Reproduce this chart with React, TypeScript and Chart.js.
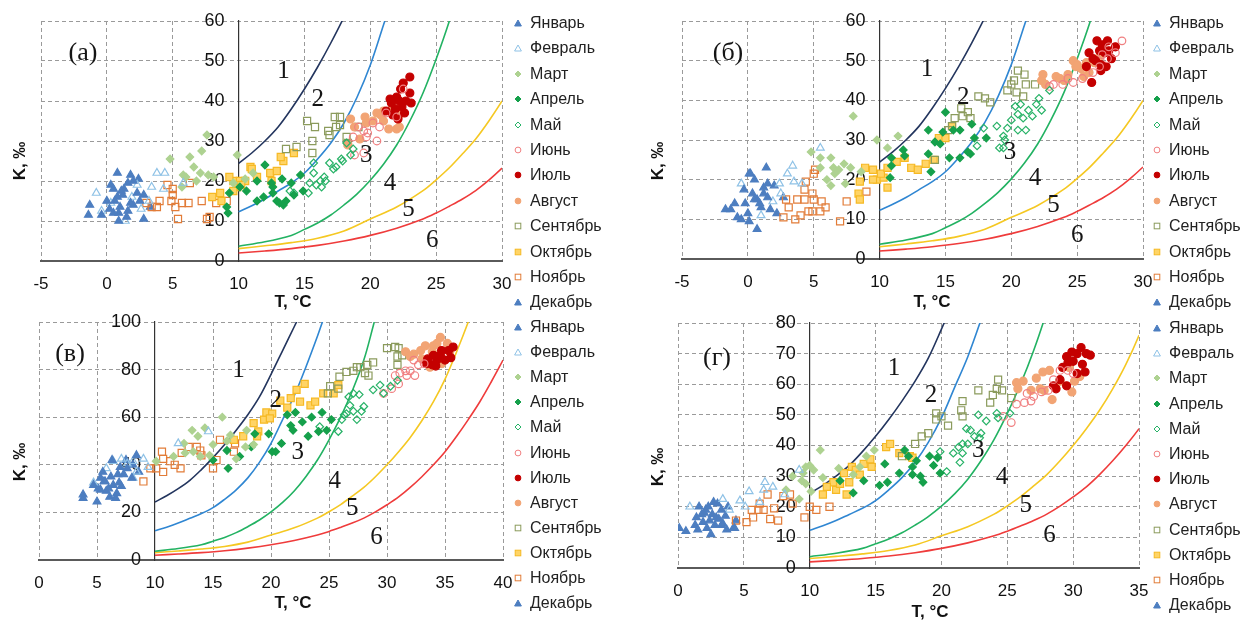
import React, { useEffect, useRef } from 'react';
import { Chart, registerables } from 'chart.js';

Chart.register(...registerables);
Chart.defaults.font.family = '"Liberation Sans", Arial, sans-serif';

const months = ['Январь', 'Февраль', 'Март', 'Апрель', 'Май', 'Июнь', 'Июль', 'Август', 'Сентябрь', 'Октябрь', 'Ноябрь', 'Декабрь'];

// ---- boundary curves (T, K) ----
const c1T = [10, 11, 12, 13, 14, 15, 16, 17, 18, 19, 20, 21, 22, 22.3];
const c1K = [24.4, 27, 30, 33.5, 38, 43, 48.5, 54.5, 61, 68.5, 78, 88, 98, 101];
const c2T = [10, 11, 12, 13, 14, 15, 16, 17, 18, 19, 20, 21, 22, 23, 24, 24.5];
const c2K = [12.3, 13.8, 15.5, 17.5, 19.5, 22, 25.5, 29.5, 34.5, 41, 49, 59, 69, 81, 94, 101];
const c3T = [10, 12, 14, 15, 16, 17, 18, 19, 20, 21, 22, 23, 24, 25, 26, 27, 28, 28.9];
const c3K = [3.7, 4.8, 6.4, 7.9, 9.5, 11.5, 14, 16.8, 20.2, 24.2, 29, 35, 42, 50.5, 60, 71, 84, 100];
const c4T = [10, 12, 14, 16, 18, 20, 22, 24, 25, 26, 27, 28, 29, 30, 31, 32, 33, 34, 35, 36, 37, 37.5];
const c4K = [3.1, 3.8, 4.6, 5.7, 7.5, 10.5, 13.5, 17.6, 20.3, 23.3, 26.8, 30.5, 35, 40, 45.5, 51.5, 58.5, 66.5, 76, 87.5, 100, 107];
const c5T = [10, 12, 14, 16, 18, 20, 22, 24, 25, 26, 27, 28, 29, 30, 31, 32, 33, 34, 35, 36, 37, 38, 39, 40];
const c5K = [2, 2.5, 3.1, 3.9, 5, 6.4, 8.2, 10.5, 12, 13.7, 15.5, 17.6, 20.2, 23.2, 26.5, 30.5, 35, 40, 45.5, 52, 59, 66.5, 75, 84];

// ---- panel (а) ----
const aT_Jan = [-1.3, -1.4, 0.8, 1.8, 0.3, 0.8, 0, 1, 0.5, 1.5, -0.4, 2.3, 2.8, 2, 1.3, 0.6, 2.5, 1.8, 0.2, 1.1, 0.9, 1.6];
const aK_Jan = [14, 11.5, 22, 21.5, 19, 16, 15, 13.5, 12, 11, 11.5, 17, 10.5, 20, 18, 15, 15, 14.5, 13, 17.5, 10, 12.5];
const aT_Feb = [-0.8, 3.8, 4.4, 3.4, 2.3, -0.4, 1.4, 5.8, 3.2, 4.3, 2.6, 0.3, 1.9];
const aK_Feb = [17, 22, 22, 18.5, 19, 12.5, 10, 19.5, 15, 18, 13, 14.5, 16];
const aT_Mar = [4.8, 6.3, 7.2, 7.6, 5.8, 6.6, 7.1, 6.8, 5.7, 9.9, 8.1, 9.6, 11.1, 7.7, 6, 10.5];
const aK_Mar = [25.5, 26, 27.5, 31.5, 21.5, 23.5, 22, 20, 18.5, 26.5, 21, 19.5, 22, 21.5, 21, 20.5];
const aT_Apr = [9.2, 12, 11.4, 10.6, 11.4, 11.9, 12.6, 13.3, 12.5, 12.9, 13.1, 13.6, 14.2, 14.7, 14.9, 14, 9.3, 10.1, 9.1, 12.6, 13.4];
const aK_Apr = [12, 24, 20, 17.5, 15, 16, 18.5, 20.5, 19.5, 15, 14.5, 15, 16.5, 21.5, 17.5, 19.5, 17, 18.5, 13.5, 17, 14];
const aT_May = [13.9, 14.2, 15.3, 15.7, 16.2, 16.3, 15.9, 16.6, 17.2, 17.8, 18.5, 18.7, 18.2, 17.4, 16.9, 15.7, 17.9, 16.5, 15.4];
const aK_May = [17.5, 17, 17, 24.5, 20, 18.5, 19, 20, 23, 25.5, 26.5, 28, 29.5, 23.5, 24.5, 22, 25, 21, 19.5];
const aT_Jun = [18.8, 19.5, 19.1, 19.5, 18.7, 19.7, 20.2, 21.2, 22.5, 22, 20.7, 19.8, 20.5];
const aK_Jun = [26.5, 27, 33.5, 32.5, 31, 31, 34.5, 37, 43, 36, 33.5, 32, 30];
const aT_Jul = [23, 22.5, 22, 22.2, 21.6, 21.2, 21.7, 22.6, 23.1, 23, 22.4, 22.1, 21.5, 22.7, 22.3, 21.9];
const aK_Jul = [46, 44.5, 41, 40, 39.5, 37.5, 36.5, 37, 39.5, 42, 38.5, 35.5, 40.5, 40, 43, 38];
const aT_Aug = [18.5, 18.8, 19.7, 20.5, 21, 21.4, 22, 22.2, 21.7, 20.2, 19.6, 20.8, 22.2, 21, 18.3, 19.2];
const aK_Aug = [35.5, 33.5, 34.5, 37, 37.5, 33, 33, 33.5, 38.5, 35, 36, 36.5, 36.5, 35, 29, 30.5];
const aT_Sep = [15.2, 15.8, 17.3, 17.7, 17.4, 16.9, 16.8, 17.7, 19.1, 13.6, 14.4, 15.6, 15.6, 18.2, 18.3];
const aK_Sep = [35, 33.5, 36, 36, 33.5, 31.5, 32.5, 34, 33.5, 28, 28.5, 30, 27, 31, 29.5];
const aT_Oct = [8.6, 8.7, 8, 9.6, 9.9, 10.1, 10.5, 9.6, 10.9, 11.4, 12.4, 12.9, 13.4, 14.2, 12.5, 13.2, 11, 9.3, 10.2];
const aK_Oct = [17, 15, 16, 20, 18.5, 20, 20, 17.5, 23.5, 21, 22, 22.5, 25, 27, 20, 26, 23, 21, 19];
const aT_Nov = [3, 4, 4.6, 5, 4.9, 5.2, 5.4, 5.7, 6.2, 7.2, 6.3, 7.8, 8.3, 9.1, 7.6, 3.4, 5, 3.8];
const aK_Nov = [14.5, 15, 19, 18, 15, 13.5, 10.5, 14.5, 14.5, 15, 19.5, 11, 14.5, 15, 10.5, 13.5, 16.5, 13.5];
const aT_Dec = [0.5, 1.2, 2, 2.8, 3.3, 1.6, 0.9, 2.4];
const aK_Dec = [18, 16.5, 14, 16.5, 13.5, 19.5, 12, 20.5];

// ---- panel (б) ----
const bT_Jan = [-1.7, -1.3, -0.8, 0.1, 0.7, 0.2, 0.5, 1.4, 1.2, -0.3, 0.5, 1, 1.5, 1.7, 0, -0.5, 0.35, 0.9, -1];
const bK_Jan = [12.5, 12.5, 10.5, 9.5, 7.5, 21.5, 20, 23, 18, 17.5, 15, 13, 15.5, 12.5, 11.5, 10, 16.5, 14, 14];
const bT_Feb = [-0.5, 2.4, 3.4, 3.5, 4.1, 5.5, 2.5, 1, 1.9, 3];
const bK_Feb = [19, 19, 23.5, 19.5, 19, 28, 16.5, 11, 14.5, 21.5];
const bT_Mar = [4.8, 5.5, 6.3, 6.5, 5.5, 6.6, 8, 7.3, 7.8, 9.8, 10.6, 11.4, 6, 7.4, 6.3, 6.9, 8.6];
const bK_Mar = [27, 25.5, 25.5, 23, 23, 21.5, 36, 24, 23, 30, 28, 31, 20, 19, 18.5, 22.5, 22];
const bT_Apr = [10.9, 11.8, 11.9, 10.9, 10.8, 13.7, 15, 14.2, 14.6, 13.7, 13.9, 15.3, 16.1, 15.6, 16.1, 16.9, 17, 17.2, 18.1, 16.7, 14.8];
const bK_Apr = [25.5, 27.5, 26, 23.5, 20.5, 32.5, 37, 29.5, 29, 26.5, 22, 25.5, 25.5, 32.5, 32.5, 26.5, 34, 30.5, 30.5, 27, 32];
const bT_May = [17.4, 17.9, 18.9, 19.1, 19.4, 19.4, 19.7, 20, 20.3, 20.5, 20.9, 21.1, 20.5, 21.6, 21.9, 22.1, 22.9, 22.3, 21.3, 19.5, 20.7];
const bK_May = [28.5, 33, 33.5, 28, 28, 31, 33, 35, 38.5, 36.5, 35.5, 32.5, 32.5, 36, 39, 40.5, 42.5, 37.5, 37.5, 30, 39];
const bT_Jun = [22.9, 23.9, 24.7, 25.4, 26.2, 27.3, 27.9, 28.4, 27.4, 26.7, 23.2, 26.9, 24.3];
const bK_Jun = [43.5, 44, 44.5, 45.5, 47, 50.5, 52, 55, 53.5, 48.5, 44, 51.5, 45.5];
const bT_Jul = [25.9, 26.2, 26.7, 26.9, 27.3, 27.4, 26.8, 27.2, 27.9, 26.1, 26.8, 26.4, 25.7, 27.6, 27.1, 26.5];
const bK_Jul = [52, 50.5, 52.5, 54, 55, 52.5, 49, 48.5, 53.5, 44.5, 47.5, 50, 48.5, 50.5, 52, 55];
const bT_Aug = [22.3, 22.6, 23.4, 23.7, 24.3, 24.7, 24.9, 25.3, 25.7, 25.9, 26.3, 26.7, 22.4, 24, 25, 25.5];
const bK_Aug = [45, 44, 46, 45.5, 46.5, 50, 48.5, 48, 49.5, 47, 49.5, 51, 46.5, 45, 49, 46];
const bT_Sep = [15.2, 15.5, 15.7, 16.2, 16.7, 16.9, 16.3, 17.5, 18, 18.4, 19.7, 20.2, 20.4, 21, 20.9, 21.1, 21.8, 20, 14.2, 20.5];
const bK_Sep = [32.5, 33.5, 35.5, 38, 37, 35.5, 36, 41, 40.5, 39.5, 42.5, 45, 42, 46.5, 41, 44, 44, 44, 25, 47.5];
const bT_Oct = [8.5, 8.4, 8.9, 9.5, 9.8, 10.3, 10.6, 10.1, 10.6, 11.3, 11.9, 12.4, 12.9, 13.5, 14.1, 14.5, 15, 15.5, 9.5, 8.5];
const bK_Oct = [19.5, 16.5, 23, 22.5, 20, 20.5, 18, 21.5, 23, 24.5, 25.5, 23, 22.5, 24, 25, 30.5, 30.5, 33.5, 20, 15];
const bT_Nov = [2.7, 2.9, 3.1, 3.75, 3.6, 4, 4.3, 4.4, 4.9, 5, 4.9, 4.6, 5.1, 5.5, 5.6, 5.9, 7, 7.5, 9, 5, 4.3];
const bK_Nov = [10.5, 15, 13, 15, 10, 11, 15, 19.5, 16.5, 15, 12, 12, 22.5, 12, 14.5, 13, 9.5, 14.5, 17, 21.5, 17.5];
const bT_Dec = [2.7, 2, 2.2, 1.5, 0.7, 0.1, 1.2, -0.2];
const bK_Dec = [15.5, 18.5, 11.5, 19, 15, 21.5, 16.5, 14];

// ---- panel (в) ----
const vT_Jan = [3.8, 3.8, 5, 4.7, 5.3, 5.5, 6.3, 5.8, 6.1, 6.4, 6.8, 7.6, 8.4, 8, 7.1, 5.3, 5.7, 6.6, 7.3, 6.9, 6];
const vK_Jan = [27.5, 26, 24.5, 31.5, 34.5, 37, 42, 29, 26.5, 31.5, 36, 38.5, 44, 34.5, 31, 29.5, 33, 26, 36, 32.5, 30];
const vT_Feb = [4.7, 5.8, 6.4, 7.1, 8.1, 9, 12, 14.6, 8.1, 8.4, 7.6, 9.4];
const vK_Feb = [32.5, 38.5, 41.5, 42.5, 41.5, 42.5, 49, 54, 34.5, 37, 40.5, 39];
const vT_Mar = [10.1, 12.5, 13.2, 13.7, 14.3, 13.3, 13.9, 15, 15.8, 16.5, 17.9, 18.5, 17.8, 17, 12.6, 11.6, 14.7, 16.2];
const vK_Mar = [41.5, 49, 54.5, 52, 55.5, 45.5, 43.5, 48.5, 60, 52.5, 54.5, 48.5, 47.5, 42.5, 45, 43.5, 44, 50];
const vT_Apr = [15, 16.3, 16.2, 17.3, 18.6, 18.3, 19.8, 20.1, 20.9, 21.4, 21.9, 22.7, 22.1, 23.2, 23.5, 24.1, 24.4, 24.8, 25.2, 21.7, 20.4];
const vK_Apr = [42, 38.5, 46, 43.5, 53, 47.5, 53, 45.5, 49, 61, 54.5, 58, 62, 52, 60, 54, 62, 54.5, 59, 56.5, 45.5];
const vT_May = [24.2, 25.8, 26.1, 26.5, 26.8, 27.1, 27.4, 27.8, 28, 26.7, 27.1, 27.6, 28.8, 29.4, 29.7, 30.3, 30.9, 26.3];
const vK_May = [56, 54, 59, 61.5, 65, 62.5, 59, 62.5, 64.5, 68.5, 70, 69.5, 71.5, 73.5, 70, 73, 75.5, 61];
const vT_Jun = [29.7, 30.4, 31, 30.7, 31.1, 31.7, 32, 32.4, 32.3, 31.6, 32.7, 33.2];
const vK_Jun = [70, 72, 74, 77.5, 78.5, 77.5, 79.5, 77.5, 84, 79.5, 82, 82.5];
const vT_Jul = [33.4, 33.9, 34.3, 34.6, 35, 35.3, 35.7, 34, 33.5, 34.7, 35.5, 34.2];
const vK_Jul = [82.5, 82, 84, 86, 84, 88, 89.5, 86, 84.5, 88, 85, 81.5];
const vT_Aug = [31.6, 32.3, 32.9, 33.3, 34, 34.6, 34.3, 35.2, 34.7, 33.7, 35.4, 32, 33, 33.9];
const vK_Aug = [87.5, 86.5, 88, 90, 90, 93.5, 91, 91, 82.5, 81, 87.5, 85.5, 84.5, 87.5];
const vT_Sep = [25.1, 25.8, 25.9, 26.5, 27.1, 27.4, 27.7, 28.1, 28.4, 28.3, 28.8, 30, 30.7, 31, 30.9, 30.9, 31.3, 24.9];
const vK_Sep = [73, 72, 77, 79, 79.5, 81, 81, 78.5, 77.5, 82, 83, 89, 89.5, 89, 82, 85.5, 86, 70];
const vT_Oct = [16.8, 17.6, 18.5, 18.9, 19.4, 19.6, 20.1, 19.9, 20.8, 21.7, 22.2, 22.9, 22.5, 23.4, 23.8, 24.5, 25.4, 25.8, 21.4, 18.8];
const vK_Oct = [50.5, 52, 57.5, 54, 59, 62, 61.5, 59.5, 67, 68, 71.5, 74, 66.5, 65, 66.5, 70, 70, 73.5, 64, 52];
const vT_Nov = [9, 9.6, 10.1, 10.7, 10.7, 11.3, 11.7, 12.2, 12.3, 12.9, 13.6, 13.9, 14, 15, 15.3, 15.6, 16.8, 16.9, 10.6];
const vK_Nov = [33, 38.5, 38.5, 37, 42.5, 41.5, 40, 38.5, 45, 47.5, 47.5, 46, 44, 38.5, 42, 50.5, 45.5, 49, 45.5];
const vT_Dec = [5.1, 6.2, 7, 7.5, 8.1, 6.7, 5.6, 8.6];
const vK_Dec = [30, 35, 39, 42, 40, 28, 33, 37];

// ---- panel (г) ----
const gT_Jan = [0.1, 0.6, 1.4, 1.6, 2.3, 2.7, 1.9, 2.2, 2.5, 2.9, 3.3, 3.4, 3.7, 4.3, 1.5, 2.8, 2, 1.3, 3.1, 1.8, 2.4];
const gK_Jan = [13, 12, 16.5, 20, 20, 21.5, 15, 13, 11, 16.5, 19, 14.5, 12.5, 13, 12.5, 14, 18, 14, 16, 17.5, 15.5];
const gT_Feb = [0.9, 3.4, 4.7, 5.4, 6.5, 6.6, 7.2, 6.2, 3.9, 9.2, 5.1, 8.1];
const gK_Feb = [20, 22.5, 22, 25, 25.5, 28, 26.5, 21.5, 19, 32, 20, 24];
const gT_Mar = [8.2, 8.7, 9.4, 9.5, 9.7, 10, 10.3, 10.8, 9.7, 10.1, 11, 12.2, 13.3, 13.8, 14.3, 14.9, 9.2];
const gK_Mar = [25.5, 30, 28.5, 31, 33, 33.5, 32, 38.5, 27.5, 25, 29.5, 32.5, 30.5, 33, 36.5, 38.5, 22.5];
const gT_Apr = [12.3, 13.3, 14.1, 15.3, 15.7, 15.9, 16.8, 17.2, 17.5, 17.8, 17.8, 18.4, 18.6, 19.1, 19.4, 19.7, 19.9, 18.1];
const gK_Apr = [28.5, 24.5, 28.5, 27, 34, 28, 31, 38.5, 36.5, 33, 30.5, 30, 28, 36.5, 33.5, 36, 31, 35];
const gT_May = [19.9, 20.4, 20.9, 21.3, 21.4, 21.6, 22, 22.2, 22.5, 22.8, 22.9, 23.4, 24.2, 24.3, 25.2, 21.9, 23, 21.6];
const gK_May = [38, 31.5, 37.5, 39.5, 34.5, 40.5, 40.5, 45, 43, 50, 42.5, 48, 50.5, 49, 50.5, 45.5, 44, 37.5];
const gT_Jun = [24.7, 25.3, 25.7, 26.3, 26.8, 27, 27.6, 28.1, 28.5, 29, 29.6, 30, 26.5];
const gK_Jun = [49.5, 47.5, 53.5, 54, 54.5, 56, 57.5, 58, 61.5, 64.5, 64.5, 63.5, 57];
const gT_Jul = [28.5, 29, 29.2, 29.5, 29.9, 30.3, 30.6, 31, 31.3, 29.6, 30.3, 30.9, 29.5, 28.7, 30, 30.7];
const gK_Jul = [59.5, 61.5, 65.5, 69, 70.5, 70, 72, 70, 69.5, 67, 63.5, 64, 59.5, 58.5, 67.5, 66.5];
const gT_Aug = [25.7, 26.2, 27.2, 27.7, 28.2, 27.8, 28.4, 29, 29.7, 29.9, 30.1, 26.8, 27.5, 25.8, 30.5];
const gK_Aug = [60.5, 61, 62, 64, 64.5, 58, 55, 61, 65.5, 57.5, 61, 58, 58.5, 58.5, 62.5];
const gT_Sep = [18, 18.5, 19, 19.6, 20, 20.5, 21.5, 21.6, 21.6, 22.8, 23.7, 23.9, 24.3, 24.2, 25.3, 19.6, 17, 24.6];
const gK_Sep = [40.5, 43, 44, 50.5, 49.5, 46.5, 51.5, 54.5, 49.5, 58, 54, 56.5, 61.5, 58.5, 55.5, 48.5, 36.5, 58];
const gT_Oct = [11, 11.8, 12, 12.3, 12.6, 12.8, 13.2, 13.5, 13.8, 14.1, 14.6, 14.7, 15.8, 16.1, 16.8, 17.6, 17.8, 11.3, 13];
const gK_Oct = [24, 28, 25.5, 27.5, 31, 24, 33, 32, 30.5, 34, 35.5, 33, 39.5, 40.5, 37.5, 36.5, 36, 26.5, 28];
const gT_Nov = [4.4, 5.2, 5.6, 5.7, 6.1, 6.5, 6.8, 7, 7.3, 7.6, 8, 8.5, 8.7, 9.6, 10, 10.5, 11.5, 6.2];
const gK_Nov = [15.5, 15, 19, 16.5, 19, 19, 24, 16, 19.5, 15.5, 23.5, 24, 21, 16.5, 20, 19, 20, 21];
const gT_Dec = [2.1, 3, 3.6, 4.2, 4.4, 3.3, 2.6, 3.8];
const gK_Dec = [19, 21, 17, 13, 15.5, 14, 17.5, 20];

// zone number positions (T, K) per panel
const aLabT = [13.4, 16.0, 19.7, 21.5, 22.9, 24.7];
const aLabK = [47.5, 40.5, 26.5, 19.5, 12.8, 5.2];
const bLabT = [13.6, 16.35, 19.9, 21.8, 23.2, 25.0];
const bLabK = [47.9, 40.8, 26.9, 20.2, 13.5, 6];
const vLabT = [17.2, 20.4, 22.3, 25.5, 27, 29.1];
const vLabK = [79.8, 67.2, 45, 33, 21.8, 9.3];
const gLabT = [16.4, 19.2, 22.8, 24.6, 26.4, 28.2];
const gLabK = [65.3, 56.4, 38.4, 29.7, 20.4, 10.7];

const aT = [aT_Jan, aT_Feb, aT_Mar, aT_Apr, aT_May, aT_Jun, aT_Jul, aT_Aug, aT_Sep, aT_Oct, aT_Nov, aT_Dec];
const aK = [aK_Jan, aK_Feb, aK_Mar, aK_Apr, aK_May, aK_Jun, aK_Jul, aK_Aug, aK_Sep, aK_Oct, aK_Nov, aK_Dec];
const bT = [bT_Jan, bT_Feb, bT_Mar, bT_Apr, bT_May, bT_Jun, bT_Jul, bT_Aug, bT_Sep, bT_Oct, bT_Nov, bT_Dec];
const bK = [bK_Jan, bK_Feb, bK_Mar, bK_Apr, bK_May, bK_Jun, bK_Jul, bK_Aug, bK_Sep, bK_Oct, bK_Nov, bK_Dec];
const vT = [vT_Jan, vT_Feb, vT_Mar, vT_Apr, vT_May, vT_Jun, vT_Jul, vT_Aug, vT_Sep, vT_Oct, vT_Nov, vT_Dec];
const vK = [vK_Jan, vK_Feb, vK_Mar, vK_Apr, vK_May, vK_Jun, vK_Jul, vK_Aug, vK_Sep, vK_Oct, vK_Nov, vK_Dec];
const gT = [gT_Jan, gT_Feb, gT_Mar, gT_Apr, gT_May, gT_Jun, gT_Jul, gT_Aug, gT_Sep, gT_Oct, gT_Nov, gT_Dec];
const gK = [gK_Jan, gK_Feb, gK_Mar, gK_Apr, gK_May, gK_Jun, gK_Jul, gK_Aug, gK_Sep, gK_Oct, gK_Nov, gK_Dec];

const curvesT = [c1T, c2T, c3T, c4T, c5T];
const curvesK = [c1K, c2K, c3K, c4K, c5K];
const curveColors = ['#23355e', '#2f86d2', '#22b262', '#f5c822', '#ef3b3b'];

const NONE = 'rgba(255,255,255,0)';
const monthStyle = [
  { shape: 'triangle', fill: '#4d7ec0', stroke: '#4d7ec0', r: 4.5 },
  { shape: 'triangle', fill: NONE, stroke: '#8fc2e6', r: 4.5 },
  { shape: 'rectRot', fill: '#aed291', stroke: '#aed291', r: 3.8 },
  { shape: 'rectRot', fill: '#15a04b', stroke: '#15a04b', r: 3.8 },
  { shape: 'rectRot', fill: NONE, stroke: '#27b267', r: 3.8 },
  { shape: 'circle', fill: NONE, stroke: '#f07f80', r: 3.8 },
  { shape: 'circle', fill: '#c40000', stroke: '#c40000', r: 4 },
  { shape: 'circle', fill: '#f2a474', stroke: '#f2a474', r: 4 },
  { shape: 'rect', fill: NONE, stroke: '#8b9b5c', r: 5 },
  { shape: 'rect', fill: '#ffd466', stroke: '#f6b924', r: 5 },
  { shape: 'rect', fill: NONE, stroke: '#e27c38', r: 5 },
  { shape: 'triangle', fill: '#4d7ec0', stroke: '#4d7ec0', r: 4.5 },
];

const panels = [
  { id: 'a', tag: '(а)', T: aT, K: aK, labT: aLabT, labK: aLabK, box: { left: 0, top: 0, w: 525, h: 312 }, pad: { l: 41, t: 21 }, xh: 51, xmin: -5, xmax: 30, ymax: 60, ystep: 10, tagPos: [83, 52], leg: { mx: 518, tx: 530, y0: 23, dy: 25.4 }, yTitle: [20, 161], xTitle: [293, 302] },
  { id: 'b', tag: '(б)', T: bT, K: bK, labT: bLabT, labK: bLabK, box: { left: 620, top: 0, w: 546, h: 312 }, pad: { l: 62, t: 21 }, xh: 53, xmin: -5, xmax: 30, ymax: 60, ystep: 10, tagPos: [728, 52], leg: { mx: 1157, tx: 1169, y0: 23, dy: 25.4 }, yTitle: [658, 161], xTitle: [932, 302] },
  { id: 'v', tag: '(в)', T: vT, K: vK, labT: vLabT, labK: vLabK, box: { left: 0, top: 310, w: 526, h: 311 }, pad: { l: 39, t: 12 }, xh: 61, xmin: 0, xmax: 40, ymax: 100, ystep: 20, tagPos: [70, 353], leg: { mx: 518, tx: 530, y0: 327, dy: 25.1 }, yTitle: [20, 462], xTitle: [293, 603] },
  { id: 'g', tag: '(г)', T: gT, K: gK, labT: gLabT, labK: gLabK, box: { left: 620, top: 310, w: 542, h: 311 }, pad: { l: 58, t: 13 }, xh: 53, xmin: 0, xmax: 35, ymax: 80, ystep: 10, tagPos: [717, 357], leg: { mx: 1157, tx: 1169, y0: 328, dy: 25.2 }, yTitle: [658, 467], xTitle: [930, 612] },
];

function PanelChart({ p }: { p: any }) {
  const ref = useRef<HTMLCanvasElement>(null);
  useEffect(() => {
    if (!ref.current) return;
    const monthSets = months.map((m, i) => ({
      label: m,
      data: p.T[i].map((t: number, j: number) => ({ x: t, y: p.K[i][j] })),
      showLine: false,
      pointStyle: monthStyle[i].shape,
      pointRadius: monthStyle[i].r,
      pointBackgroundColor: monthStyle[i].fill,
      pointBorderColor: monthStyle[i].stroke,
      pointBorderWidth: 1.2,
    }));
    const curveSets = curvesT.map((ct, i) => ({
      label: 'curve' + (i + 1),
      data: ct.map((t, j) => ({ x: t, y: curvesK[i][j] })),
      showLine: true,
      borderColor: curveColors[i],
      borderWidth: 1.6,
      pointRadius: 0,
      tension: 0.35,
      fill: false,
    }));
    const zonePlugin = {
      id: 'zones' + p.id,
      afterDatasetsDraw(chart: any) {
        const { ctx, scales } = chart;
        ctx.save();
        ctx.font = '25px "Liberation Serif", "Times New Roman", serif';
        ctx.fillStyle = '#151515';
        ctx.textAlign = 'center';
        ctx.textBaseline = 'middle';
        p.labT.forEach((t: number, i: number) => {
          ctx.fillText(String(i + 1), scales.x.getPixelForValue(t), scales.y.getPixelForValue(p.labK[i]));
        });
        ctx.restore();
      },
    };
    const chart = new Chart(ref.current, {
      type: 'scatter',
      data: { datasets: [...monthSets, ...curveSets] as any },
      options: {
        animation: false,
        responsive: false,
        maintainAspectRatio: false,
        devicePixelRatio: 1,
        layout: { padding: { left: p.pad.l, right: 0, top: p.pad.t, bottom: 0 } },
        plugins: { legend: { display: false }, tooltip: { enabled: false } },
        scales: {
          x: {
            type: 'linear',
            position: 'bottom',
            min: p.xmin,
            max: p.xmax,
            afterFit: (s: any) => { s.height = p.xh; },
            ticks: { stepSize: 5, autoSkip: false, maxRotation: 0, padding: 13.5, color: '#111', font: { size: 17 } },
            grid: {
              color: (c: any) => (c.tick && c.tick.value === 10 ? 'rgba(0,0,0,0)' : '#9a9a9a'),
              lineWidth: 1,
              drawTicks: false,
            },
            border: { display: true, color: '#5a5a5a', width: 2, dash: [4, 3] },
          },
          y: {
            type: 'linear',
            position: { x: 10 },
            min: 0,
            max: p.ymax,
            ticks: { stepSize: p.ystep, padding: 0, color: '#111', font: { size: 18 }, callback: (v: any) => String(v) + '\u2002 ' },
            grid: { color: '#9a9a9a', lineWidth: 1, drawTicks: false },
            border: { display: true, color: '#333', width: 1.2, dash: [4, 3] },
          },
        },
      } as any,
      plugins: [zonePlugin],
    });
    return () => chart.destroy();
  }, []);
  return (
    <canvas
      ref={ref}
      width={p.box.w}
      height={p.box.h}
      style={{ position: 'absolute', left: p.box.left, top: p.box.top, width: p.box.w, height: p.box.h }}
    />
  );
}

function Marker({ i }: { i: number }) {
  const s = monthStyle[i];
  const fill = s.fill === NONE ? 'none' : s.fill;
  let el;
  if (s.shape === 'triangle') el = <polygon points="4,1 7.4,7 0.6,7" fill={fill} stroke={s.stroke} strokeWidth={1} />;
  else if (s.shape === 'rectRot') el = <polygon points="4,1 7,4 4,7 1,4" fill={fill} stroke={s.stroke} strokeWidth={1} />;
  else if (s.shape === 'circle') el = <circle cx={4} cy={4} r={2.9} fill={fill} stroke={s.stroke} strokeWidth={1} />;
  else el = <rect x={1.2} y={1.2} width={5.6} height={5.6} fill={fill} stroke={s.stroke} strokeWidth={1} />;
  return <svg width={8} height={8} style={{ display: 'block' }}>{el}</svg>;
}

function Legend({ p }: { p: any }) {
  return (
    <>
      {months.map((m, i) => {
        const y = p.leg.y0 + i * p.leg.dy;
        return (
          <React.Fragment key={m}>
            <div style={{ position: 'absolute', left: p.leg.mx - 4, top: y - 4 }}><Marker i={i} /></div>
            <div style={{ position: 'absolute', left: p.leg.tx, top: y - 10, height: 20, lineHeight: '20px', fontSize: 16, color: '#222', whiteSpace: 'nowrap' }}>{m}</div>
          </React.Fragment>
        );
      })}
    </>
  );
}

export default function App() {
  return (
    <div style={{ position: 'absolute', left: 0, top: 0, width: 1242, height: 621, background: '#fff', overflow: 'hidden', fontFamily: '"Liberation Sans", Arial, sans-serif' }}>
      {panels.map((p) => (
        <React.Fragment key={p.id}>
          <PanelChart p={p} />
          <div style={{ position: 'absolute', left: p.tagPos[0] - 40, top: p.tagPos[1] - 16, width: 80, textAlign: 'center', lineHeight: '32px', fontSize: 26, fontFamily: '"Liberation Serif", "Times New Roman", serif', color: '#151515' }}>{p.tag}</div>
          <div style={{ position: 'absolute', left: p.xTitle[0] - 40, top: p.xTitle[1] - 11, width: 80, textAlign: 'center', lineHeight: '22px', fontSize: 17, fontWeight: 'bold', color: '#111', whiteSpace: 'nowrap' }}>T, °C</div>
          <div style={{ position: 'absolute', left: p.yTitle[0] - 40, top: p.yTitle[1] - 11, width: 80, textAlign: 'center', lineHeight: '22px', fontSize: 17, fontWeight: 'bold', color: '#111', whiteSpace: 'nowrap', transform: 'rotate(-90deg)' }}>K, ‰</div>
          <Legend p={p} />
        </React.Fragment>
      ))}
    </div>
  );
}
